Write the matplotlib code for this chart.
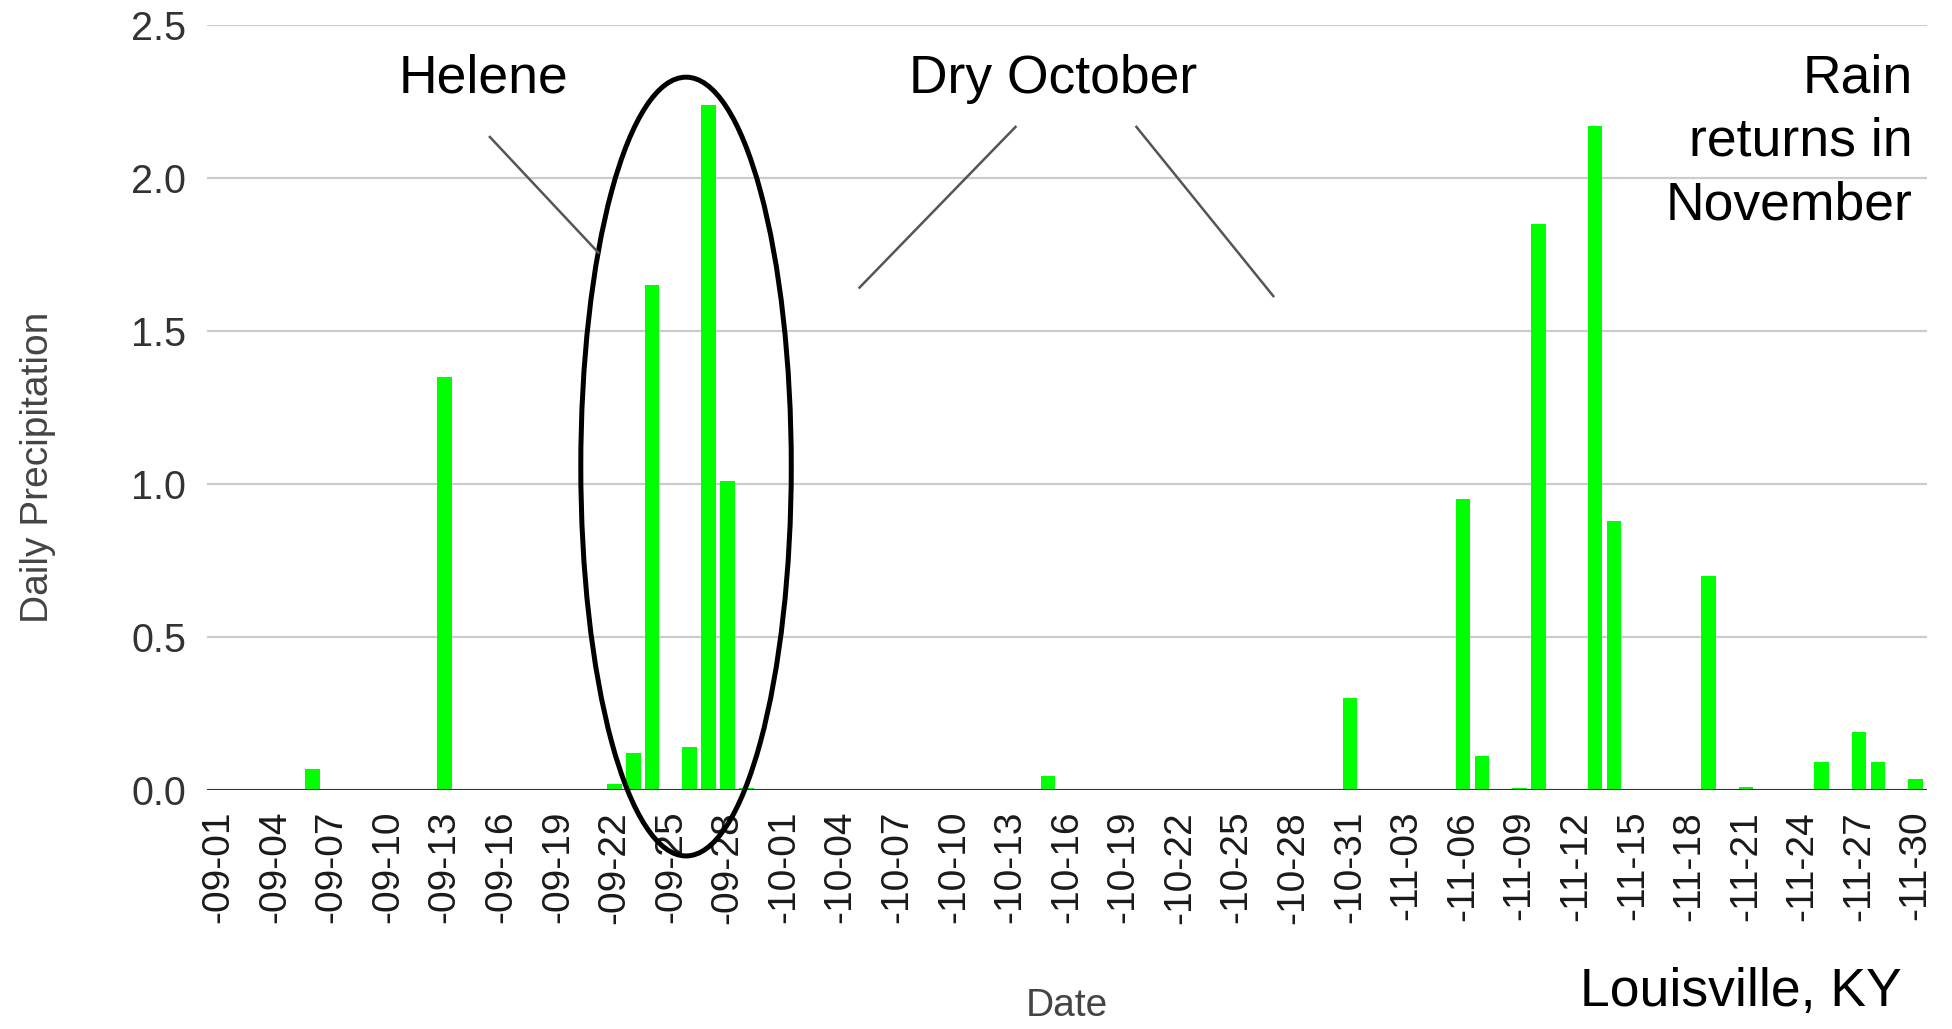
import numpy as np
import pandas as pd
import matplotlib
matplotlib.use("Agg")
import matplotlib.pyplot as plt
from matplotlib.patches import Ellipse

plt.rcParams['font.family'] = ['Liberation Sans', 'DejaVu Sans']

# ---------------------------------------------------------------
# Data (Louisville, KY daily precipitation, Sep-Nov)
# ---------------------------------------------------------------
days = pd.date_range('2024-09-01', '2024-11-30', freq='D')
rain_dates = ['09-06', '09-13', '09-22', '09-23', '09-24', '09-26', '09-27',
              '09-28', '09-29', '10-15', '10-31', '11-06', '11-07', '11-09',
              '11-10', '11-13', '11-14', '11-19', '11-21', '11-25', '11-27',
              '11-28', '11-30']
rain_amounts = [0.07, 1.35, 0.02, 0.12, 1.65, 0.14, 2.24,
                1.01, 0.005, 0.045, 0.30, 0.95, 0.11, 0.005,
                1.85, 2.17, 0.88, 0.70, 0.01, 0.09, 0.19,
                0.09, 0.035]

day_labels = [d.strftime('%m-%d') for d in days]
precip = pd.Series(rain_amounts, index=rain_dates).reindex(day_labels, fill_value=0.0)
tick_labels = ['-' + lab for lab in day_labels]

y_ticks = [0.0, 0.5, 1.0, 1.5, 2.0, 2.5]

# ---------------------------------------------------------------
# Figure
# ---------------------------------------------------------------
fig = plt.figure(figsize=(19.52, 10.29), dpi=100)
ax = fig.add_axes([207 / 1952, 1 - 790 / 1029, 1720 / 1952, 765 / 1029])

x = np.arange(len(precip))
ax.bar(x, precip.values, width=0.78, color='#00ff00', zorder=3)

ax.set_xlim(-0.6, len(precip) - 0.4)
ax.set_ylim(0, 2.5)
ax.set_yticks(y_ticks)
ax.set_yticklabels([f'{v:.1f}' for v in y_ticks])
ax.set_xticks(x[::3])
ax.set_xticklabels(tick_labels[::3], rotation=90)

ax.tick_params(axis='y', length=0, pad=15, labelsize=28.5, labelcolor='#333333')
ax.tick_params(axis='x', length=0, pad=15, labelsize=28, labelcolor='#1a1a1a')

for s in ax.spines.values():
    s.set_visible(False)
ax.yaxis.grid(True, color='#cccccc', linewidth=1.6, zorder=0)
ax.set_axisbelow(True)
ax.axhline(0, color='#333333', linewidth=2.2, zorder=4)

ax.set_xlabel('Date', fontsize=28, color='#444444')
ax.xaxis.set_label_coords(0.5, -0.282)
ax.xaxis.label.set_va('center')
ax.set_ylabel('Daily Precipitation', fontsize=28, color='#444444')
ax.yaxis.set_label_coords(-0.098, 0.422)
ax.yaxis.label.set_va('center')

# ---------------------------------------------------------------
# Annotations
# ---------------------------------------------------------------
ax.add_patch(Ellipse((24.8, 1.057), 11.16, 2.545, fill=False,
                     edgecolor='black', linewidth=3.6, zorder=5, clip_on=False))

line_kw = dict(color='#555555', linewidth=1.8, zorder=5, clip_on=False)
ax.plot([14.4, 20.15], [2.134, 1.756], **line_kw)
ax.plot([42.27, 34.0], [2.167, 1.642], **line_kw)
ax.plot([48.68, 55.94], [2.167, 1.614], **line_kw)

ax.text(14.07, 2.325, 'Helene', fontsize=38.5,
        ha='center', va='center', clip_on=False)
ax.text(44.25, 2.325, 'Dry October', fontsize=38.5,
        ha='center', va='center', clip_on=False)
ax.text(89.83, 2.118, 'Rain\nreturns in\nNovember', fontsize=38.5,
        ha='right', va='center', multialignment='right', linespacing=1.34,
        clip_on=False)
fig.text(1902 / 1952, 1 - 992 / 1029, 'Louisville, KY', fontsize=38.5,
         ha='right', va='center')

fig.savefig('out.png', dpi=100, facecolor='white')
plt.close(fig)
